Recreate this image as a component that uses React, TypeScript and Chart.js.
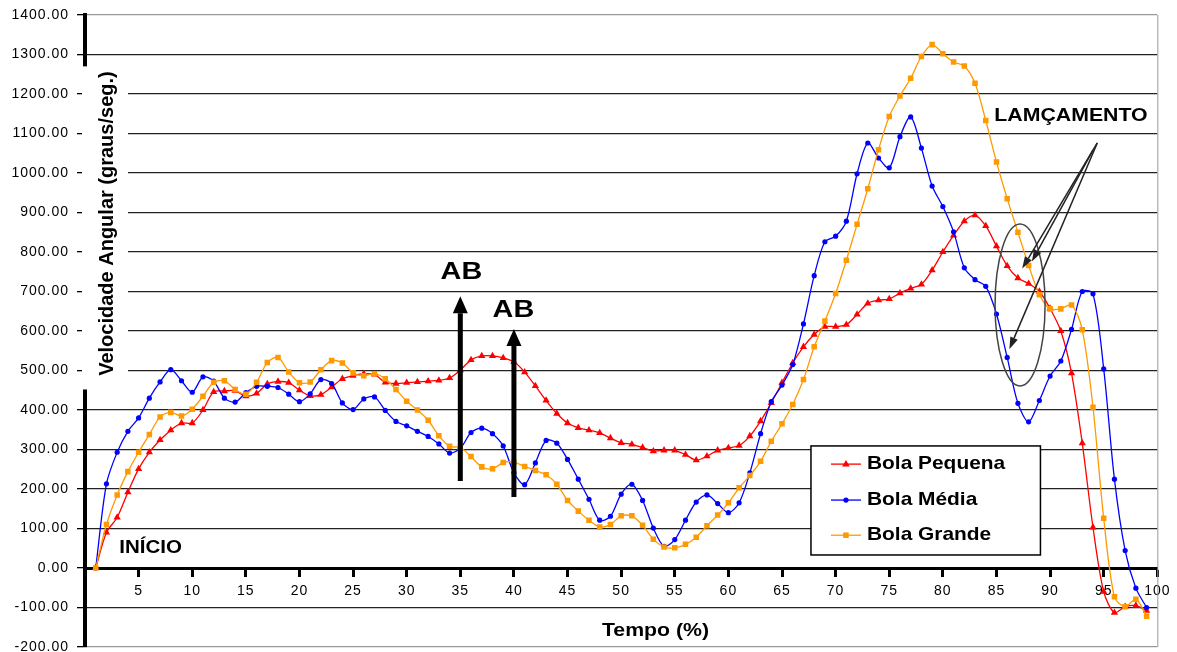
import React, { useEffect, useRef } from 'react';
import { Chart, registerables } from 'chart.js';

Chart.register(...registerables);

const tempo = [
  1, 2, 3, 4, 5, 6, 7, 8, 9, 10, 11, 12, 13, 14, 15, 16, 17, 18, 19, 20,
  21, 22, 23, 24, 25, 26, 27, 28, 29, 30, 31, 32, 33, 34, 35, 36, 37, 38, 39, 40,
  41, 42, 43, 44, 45, 46, 47, 48, 49, 50, 51, 52, 53, 54, 55, 56, 57, 58, 59, 60,
  61, 62, 63, 64, 65, 66, 67, 68, 69, 70, 71, 72, 73, 74, 75, 76, 77, 78, 79, 80,
  81, 82, 83, 84, 85, 86, 87, 88, 89, 90, 91, 92, 93, 94, 95, 96, 97, 98, 99,
];

const bolaPequena = [
  0, 90, 128, 192, 251, 293, 324, 349, 367, 367,
  400, 446, 448, 449, 435, 442, 466, 472, 469, 450,
  436, 439, 458, 479, 487, 492, 490, 470, 467, 469,
  471, 473, 475, 481, 501, 527, 537, 537, 532, 522,
  496, 461, 424, 391, 367, 355, 349, 342, 329, 317,
  313, 305, 296, 298, 298, 287, 273, 283, 298, 304,
  310, 334, 372, 418, 469, 519, 560, 591, 611, 611,
  616, 642, 670, 678, 681, 696, 708, 718, 754, 800,
  842, 878, 893, 866, 815, 765, 734, 720, 700, 657,
  600, 493, 316, 103, -60, -113, -98, -95, -108,
];

const bolaMedia = [
  0, 213, 293, 346, 380, 430, 471, 502, 474, 445,
  484, 473, 430, 420, 444, 460, 460, 457, 440, 421,
  441, 477, 467, 418, 401, 428, 433, 399, 371, 360,
  346, 333, 314, 291, 303, 343, 354, 340, 309, 241,
  211, 266, 323, 316, 275, 225, 174, 121, 131, 187,
  212, 171, 101, 55, 72, 121, 167, 185, 163, 140,
  165, 241, 340, 421, 463, 515, 618, 740, 826, 840,
  878, 998, 1076, 1038, 1013, 1092, 1142, 1063, 967, 915,
  851, 760, 730, 713, 643, 533, 417, 370, 424, 486,
  524, 604, 700, 694, 504, 225, 44, -51, -100,
];

const bolaGrande = [
  0, 110, 185, 244, 293, 338, 382, 394, 385, 402,
  435, 470, 474, 452, 440, 470, 520, 533, 496, 469,
  471, 502, 525, 519, 494, 487, 492, 479, 452, 422,
  400, 374, 335, 308, 305, 282, 256, 251, 267, 268,
  257, 247, 236, 212, 171, 144, 121, 104, 110, 132,
  132, 108, 73, 53, 51, 60, 78, 107, 134, 165,
  203, 234, 270, 321, 365, 414, 477, 560, 625, 695,
  779, 870, 960, 1059, 1143, 1195, 1240, 1295, 1325, 1302,
  1281, 1271, 1227, 1133, 1028, 935, 850, 766, 692, 656,
  656, 666, 603, 407, 126, -73, -98, -79, -122,
];

const seriesNames = ['Bola Pequena', 'Bola Média', 'Bola Grande'];
const seriesColors = ['#FF0000', '#0000FF', '#FF9900'];
const seriesMarkers = ['triangle', 'circle', 'rect'];

const yTitle = 'Velocidade Angular (graus/seg.)';
const xTitle = 'Tempo (%)';
const FONT = '"Liberation Sans", Arial, sans-serif';

function stretchText(
  ctx: CanvasRenderingContext2D,
  text: string,
  x: number,
  y: number,
  size: number,
  sx: number,
  align: CanvasTextAlign,
) {
  ctx.save();
  ctx.translate(x, y);
  ctx.scale(sx, 1);
  ctx.font = `bold ${size}px ${FONT}`;
  ctx.textAlign = align;
  ctx.textBaseline = 'middle';
  ctx.fillStyle = '#000';
  ctx.fillText(text, 0, 0);
  ctx.restore();
}

function arrow(
  ctx: CanvasRenderingContext2D,
  x1: number,
  y1: number,
  x2: number,
  y2: number,
  width: number,
  headLen: number,
  headW: number,
  color: string,
) {
  const ang = Math.atan2(y2 - y1, x2 - x1);
  const bx = x2 - headLen * Math.cos(ang);
  const by = y2 - headLen * Math.sin(ang);
  ctx.save();
  ctx.strokeStyle = color;
  ctx.fillStyle = color;
  ctx.lineWidth = width;
  ctx.beginPath();
  ctx.moveTo(x1, y1);
  ctx.lineTo(bx, by);
  ctx.stroke();
  ctx.beginPath();
  ctx.moveTo(x2, y2);
  ctx.lineTo(bx + (headW / 2) * Math.sin(ang), by - (headW / 2) * Math.cos(ang));
  ctx.lineTo(bx - (headW / 2) * Math.sin(ang), by + (headW / 2) * Math.cos(ang));
  ctx.closePath();
  ctx.fill();
  ctx.restore();
}

function marker(ctx: CanvasRenderingContext2D, kind: string, x: number, y: number, color: string) {
  ctx.save();
  ctx.fillStyle = color;
  ctx.beginPath();
  if (kind === 'triangle') {
    const r = 4;
    ctx.moveTo(x, y - r);
    ctx.lineTo(x + r * 0.95, y + r * 0.6);
    ctx.lineTo(x - r * 0.95, y + r * 0.6);
    ctx.closePath();
  } else if (kind === 'circle') {
    ctx.arc(x, y, 2.6, 0, Math.PI * 2);
  } else {
    ctx.rect(x - 2.8, y - 2.8, 5.6, 5.6);
  }
  ctx.fill();
  ctx.restore();
}

const annotPlugin = {
  id: 'annotations',
  beforeDraw(chart: any) {
    const ctx = chart.ctx;
    ctx.save();
    ctx.fillStyle = '#fff';
    ctx.fillRect(0, 0, chart.width, chart.height);
    ctx.restore();
    ctx.letterSpacing = '1px';
  },
  afterDraw(chart: any) {
    const ctx: CanvasRenderingContext2D = chart.ctx;
    (ctx as any).letterSpacing = '0px';
    const { left, right, top, bottom } = chart.chartArea;
    const xs = chart.scales.x;
    const ys = chart.scales.y;
    const X = (v: number) => xs.getPixelForValue(v);
    const Y = (v: number) => ys.getPixelForValue(v);

    // plot-area right border
    ctx.save();
    ctx.strokeStyle = '#9a9a9a';
    ctx.lineWidth = 1;
    ctx.beginPath();
    ctx.moveTo(right + 0.5, top);
    ctx.lineTo(right + 0.5, bottom);
    ctx.stroke();
    ctx.restore();

    // y title with white background box
    ctx.save();
    ctx.fillStyle = '#fff';
    ctx.fillRect(left - 3, Y(1270), 46, Y(452) - Y(1270));
    ctx.restore();
    ctx.save();
    ctx.translate(left + 22, Y(872));
    ctx.rotate(-Math.PI / 2);
    ctx.font = `bold 20px ${FONT}`;
    ctx.textAlign = 'center';
    ctx.textBaseline = 'middle';
    ctx.fillStyle = '#000';
    ctx.fillText(yTitle, 0, 0);
    ctx.restore();

    // x title
    stretchText(ctx, xTitle, X(53.2), Y(-158), 19, 1.12, 'center');

    // AB arrows
    arrow(ctx, X(35), Y(220), X(35), Y(688), 5, 17, 15, '#000');
    arrow(ctx, X(40), Y(180), X(40), Y(605), 5, 17, 15, '#000');
    stretchText(ctx, 'AB', X(35.1), Y(749), 24, 1.2, 'center');
    stretchText(ctx, 'AB', X(39.95), Y(653), 24, 1.2, 'center');

    // INÍCIO
    stretchText(ctx, 'INÍCIO', X(3.2), Y(51), 19, 1.08, 'left');

    // LAMÇAMENTO
    stretchText(ctx, 'LAMÇAMENTO', X(84.8), Y(1144), 19, 1.12, 'left');

    // ellipse
    ctx.save();
    ctx.strokeStyle = '#444';
    ctx.lineWidth = 1.5;
    ctx.beginPath();
    ctx.ellipse(X(87.2), Y(666), 25, 81, 0, 0, Math.PI * 2);
    ctx.stroke();
    ctx.restore();

    // lançamento arrows
    arrow(ctx, X(94.4), Y(1076), X(87.4), Y(758), 1.5, 12, 8, '#222');
    arrow(ctx, X(94.0), Y(1058), X(88.3), Y(776), 1.5, 12, 8, '#222');
    arrow(ctx, X(94.4), Y(1076), X(86.2), Y(554), 1.5, 12, 8, '#222');

    // legend
    const lx1 = X(67.7);
    const lx2 = X(89.1);
    const ly1 = Y(309);
    const ly2 = Y(33);
    ctx.save();
    ctx.fillStyle = '#fff';
    ctx.fillRect(lx1, ly1, lx2 - lx1, ly2 - ly1);
    ctx.strokeStyle = '#000';
    ctx.lineWidth = 1.5;
    ctx.strokeRect(lx1, ly1, lx2 - lx1, ly2 - ly1);
    ctx.restore();
    const rows = [Y(263), Y(172), Y(83)];
    for (let i = 0; i < 3; i++) {
      const ry = rows[i];
      ctx.save();
      ctx.strokeStyle = seriesColors[i];
      ctx.lineWidth = 1.3;
      ctx.beginPath();
      ctx.moveTo(lx1 + 20, ry);
      ctx.lineTo(lx1 + 50, ry);
      ctx.stroke();
      ctx.restore();
      marker(ctx, seriesMarkers[i], lx1 + 35, ry, seriesColors[i]);
      stretchText(ctx, seriesNames[i], lx1 + 56, ry, 19, 1.1, 'left');
    }
  },
};

export default function App() {
  const canvasRef = useRef<HTMLCanvasElement | null>(null);

  useEffect(() => {
    const canvas = canvasRef.current;
    if (!canvas) return;
    const values = [bolaPequena, bolaMedia, bolaGrande];
    const radii = [4.2, 2.6, 3.9];
    const chart = new Chart(canvas, {
      type: 'line',
      data: {
        datasets: values.map((vals, i) => ({
          label: seriesNames[i],
          data: vals.map((v, j) => ({ x: tempo[j], y: v })),
          borderColor: seriesColors[i],
          backgroundColor: seriesColors[i],
          borderWidth: 1.3,
          pointStyle: seriesMarkers[i] as any,
          pointRadius: radii[i],
          pointBorderWidth: 0,
          pointBackgroundColor: seriesColors[i],
          tension: 0.3,
          fill: false,
          order: 3 - i,
        })),
      },
      options: {
        animation: false,
        responsive: false,
        devicePixelRatio: 1,
        layout: { padding: { top: 15, right: 18, bottom: 5, left: 0 } },
        plugins: {
          legend: { display: false },
          tooltip: { enabled: false },
        },
        scales: {
          x: {
            type: 'linear',
            min: 0,
            max: 100,
            position: { y: 0 } as any,
            ticks: {
              stepSize: 5,
              autoSkip: false,
              maxRotation: 0,
              color: '#000',
              padding: 8,
              font: { family: FONT, size: 14 },
              callback: (v: any) => (v === 0 ? '' : String(v)),
            },
            grid: {
              drawOnChartArea: false,
              drawTicks: true,
              tickLength: 7,
              tickWidth: 3,
              tickColor: '#000',
            },
            border: { color: '#000', width: 3 },
          },
          y: {
            type: 'linear',
            min: -200,
            max: 1400,
            ticks: {
              stepSize: 100,
              color: '#000',
              padding: 8,
              font: { family: FONT, size: 14 },
              callback: (v: any) => Number(v).toFixed(2),
            },
            grid: {
              color: (c: any) =>
                c.tick && (c.tick.value === 1400 || c.tick.value === -200) ? '#9a9a9a' : '#222',
              lineWidth: 1.3,
              drawTicks: true,
              tickLength: 8,
              tickColor: '#000',
              tickWidth: 1.3,
            },
            border: { color: '#000', width: 4 },
            afterFit: (scale: any) => {
              scale.width = 85;
              scale.paddingTop = 0;
              scale.paddingBottom = 0;
            },
          },
        },
      },
      plugins: [annotPlugin],
    });
    return () => chart.destroy();
  }, []);

  return (
    <div style={{ position: 'fixed', left: 0, top: 0, width: 1177, height: 652, background: '#fff' }}>
      <canvas ref={canvasRef} width={1177} height={652} style={{ width: 1177, height: 652 }} />
    </div>
  );
}
